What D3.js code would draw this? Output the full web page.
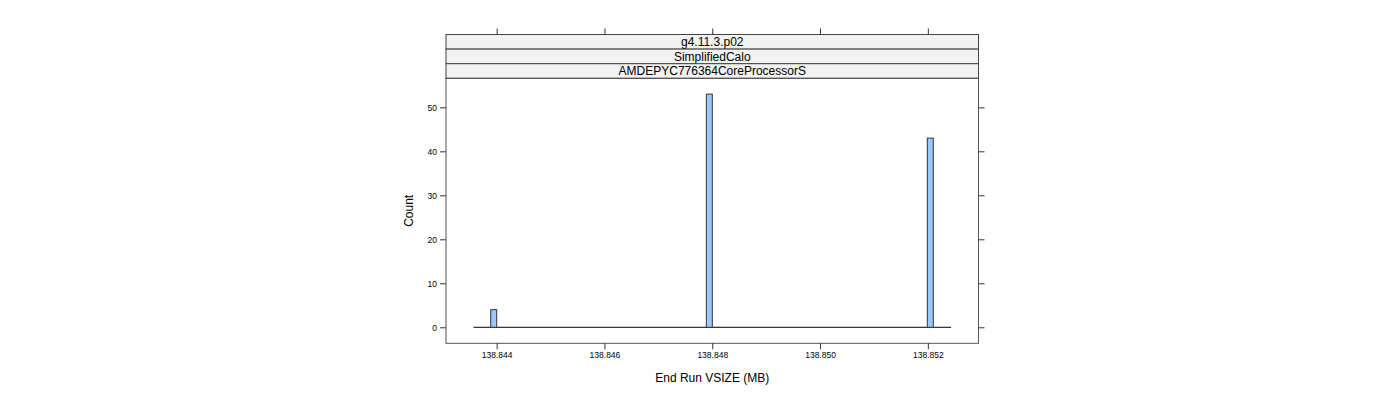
<!DOCTYPE html>
<html>
<head>
<meta charset="utf-8">
<script src="https://cdn.jsdelivr.net/npm/d3@7"></script>
<style>
  body { margin: 0; background: #fff; }
  svg text { font-family: "Liberation Sans", Arial, sans-serif; fill: #000; }
</style>
</head>
<body>
<svg id="chart" width="1400" height="400"></svg>
<script>
// Strip labels (top to bottom)
const stripLabels = ["g4.11.3.p02", "SimplifiedCalo", "AMDEPYC776364CoreProcessorS"];

// Histogram: full break range and the non-empty bins
const histRange = [138.84357, 138.85243];
const binWidth = 0.000111;
const binStarts = [138.84389, 138.84789, 138.85199];
const binCounts = [4, 53, 43];

// Axes
const xTicks = [138.844, 138.846, 138.848, 138.850, 138.852];
const yTicks = [0, 10, 20, 30, 40, 50];
const xDomain = [138.84306, 138.85294];
const yDomain = [-3.64, 56.6];

const svg = d3.select("#chart");

const panel = { left: 446, right: 978.5, top: 78.3, bottom: 343.3 };
const stripH = 14.6;

const x = d3.scaleLinear().domain(xDomain).range([panel.left, panel.right]);
const y = d3.scaleLinear().domain(yDomain).range([panel.bottom, panel.top]);

// Strips
stripLabels.forEach((lab, i) => {
  const top = panel.top - stripH * (stripLabels.length - i);
  svg.append("rect")
    .attr("x", panel.left).attr("y", top)
    .attr("width", panel.right - panel.left).attr("height", stripH)
    .attr("fill", "#f2f2f2").attr("stroke", "#444").attr("stroke-width", 1);
  svg.append("text")
    .attr("x", (panel.left + panel.right) / 2).attr("y", top + stripH / 2 + 4.3)
    .attr("text-anchor", "middle").attr("font-size", 12)
    .text(lab);
});

// Zero-count bins draw as a flat line
svg.append("line")
  .attr("x1", x(histRange[0])).attr("x2", x(histRange[1]))
  .attr("y1", y(0)).attr("y2", y(0))
  .attr("stroke", "#000").attr("stroke-width", 1);

// Bars
svg.selectAll("rect.bar")
  .data(binStarts.map((s, i) => ({ s, c: binCounts[i] })))
  .join("rect")
  .attr("class", "bar")
  .attr("x", d => x(d.s))
  .attr("width", d => x(d.s + binWidth) - x(d.s))
  .attr("y", d => y(d.c))
  .attr("height", d => y(0) - y(d.c))
  .attr("fill", "#99c9ff")
  .attr("stroke", "#333")
  .attr("stroke-width", 1);

// Panel border
svg.append("rect")
  .attr("x", panel.left).attr("y", panel.top)
  .attr("width", panel.right - panel.left).attr("height", panel.bottom - panel.top)
  .attr("fill", "none").attr("stroke", "#555").attr("stroke-width", 1);

const tickLen = 6;
const stripTop = panel.top - stripH * stripLabels.length;

// Bottom axis with labels
const xAxis = svg.append("g")
  .attr("transform", `translate(0,${panel.bottom})`)
  .call(d3.axisBottom(x).tickValues(xTicks).tickSize(tickLen).tickPadding(3)
    .tickFormat(d3.format(".3f")));
xAxis.select(".domain").remove();
xAxis.selectAll("line").attr("stroke", "#333");
xAxis.selectAll("text").attr("font-size", 8.5).attr("font-family", "Liberation Sans, Arial, sans-serif");

// Top axis ticks only
const xTop = svg.append("g")
  .attr("transform", `translate(0,${stripTop})`)
  .call(d3.axisTop(x).tickValues(xTicks).tickSize(tickLen).tickFormat(""));
xTop.select(".domain").remove();
xTop.selectAll("line").attr("stroke", "#333");

// Left axis with labels
const yAxis = svg.append("g")
  .attr("transform", `translate(${panel.left},0)`)
  .call(d3.axisLeft(y).tickValues(yTicks).tickSize(tickLen).tickPadding(3));
yAxis.select(".domain").remove();
yAxis.selectAll("line").attr("stroke", "#333");
yAxis.selectAll("text").attr("font-size", 8.5).attr("font-family", "Liberation Sans, Arial, sans-serif");

// Right axis ticks only
const yRight = svg.append("g")
  .attr("transform", `translate(${panel.right},0)`)
  .call(d3.axisRight(y).tickValues(yTicks).tickSize(tickLen).tickFormat(""));
yRight.select(".domain").remove();
yRight.selectAll("line").attr("stroke", "#333");

// Axis titles
svg.append("text")
  .attr("x", (panel.left + panel.right) / 2).attr("y", 382)
  .attr("text-anchor", "middle").attr("font-size", 12)
  .text("End Run VSIZE (MB)");

svg.append("text")
  .attr("transform", `translate(413,${(panel.top + panel.bottom) / 2}) rotate(-90)`)
  .attr("text-anchor", "middle").attr("font-size", 12)
  .text("Count");
</script>
</body>
</html>
